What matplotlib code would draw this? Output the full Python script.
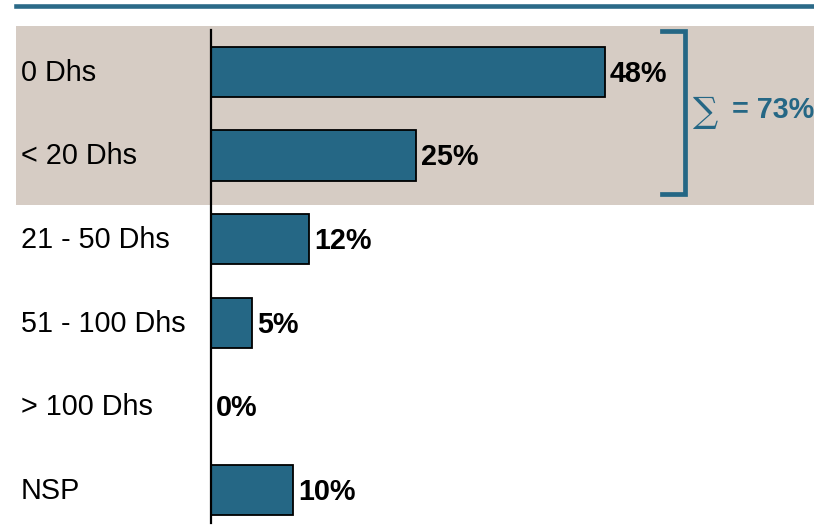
import matplotlib.pyplot as plt
from matplotlib.patches import Rectangle
from matplotlib.lines import Line2D
from matplotlib.transforms import blended_transform_factory

categories = ["0 Dhs", "< 20 Dhs", "21 - 50 Dhs", "51 - 100 Dhs", "> 100 Dhs", "NSP"]
values = [48, 25, 12, 5, 0, 10]
group = [0, 1]  # highlighted categories, summed in the bracket

W, H = 814, 527
teal = "#256785"
band = "#d6ccc4"
plt.rcParams['font.family'] = ['Liberation Sans', 'DejaVu Sans']

fig = plt.figure(figsize=(W / 100, H / 100), dpi=100)
fig.patch.set_facecolor("white")

# shaded band behind the first two rows and the rule at the top
fig.patches.append(Rectangle((16 / W, 1 - 205 / H), 1 - 16 / W, 179 / H,
                             transform=fig.transFigure, facecolor=band,
                             edgecolor="none", zorder=-5))
fig.lines.append(Line2D([16 / W, 1], [1 - 6 / H, 1 - 6 / H], transform=fig.transFigure,
                        color="#2b6a88", linewidth=3.3, zorder=-5))

ax = fig.add_axes([211 / W, 1 - 523 / H, 599 / W, 493 / H])
ax.set_zorder(2)
ax.set_facecolor("none")
pos = list(range(len(categories)))
ax.barh(pos, values, height=0.6, color=teal, edgecolor="black", linewidth=1.3, zorder=2)
ax.set_xlim(0, 73)
ax.set_ylim(5.39, -0.5)

for s in ["top", "right", "bottom"]:
    ax.spines[s].set_visible(False)
ax.spines["left"].set_linewidth(1.6)
ax.set_xticks([])
ax.set_yticks([])

# category labels, left aligned at the figure edge
tr = blended_transform_factory(fig.transFigure, ax.transData)
for p, c in zip(pos, categories):
    ax.text(21 / W, p + 0.01, c, transform=tr, ha="left", va="center", fontsize=20.7)

for p, v in zip(pos, values):
    ax.text(v + 0.6, p + 0.02, f"{v}%", ha="left", va="center",
            fontsize=20.7, fontweight="bold", zorder=3)

# bracket with the sum
top, bot = group[0] - 0.49, group[-1] + 0.455
bx, cap = 57.8, 2.8
ax.plot([bx - cap, bx, bx, bx - cap], [top, top, bot, bot], color=teal,
        linewidth=3.4, clip_on=False, solid_joinstyle="miter", zorder=3)
total = sum(values[i] for i in group)
mid = (group[0] + group[-1]) / 2 - 0.05
ax.text(bx + 0.9, mid + 0.03, "\u2211", color=teal, fontsize=25.5, ha="left", va="center",
        family=["DejaVu Serif", "DejaVu Sans"], clip_on=False)
ax.text(bx + 5.75, mid, f"= {total}%", color=teal, fontsize=20.7, fontweight="bold",
        ha="left", va="center", clip_on=False)

fig.savefig("out.png", dpi=100)
